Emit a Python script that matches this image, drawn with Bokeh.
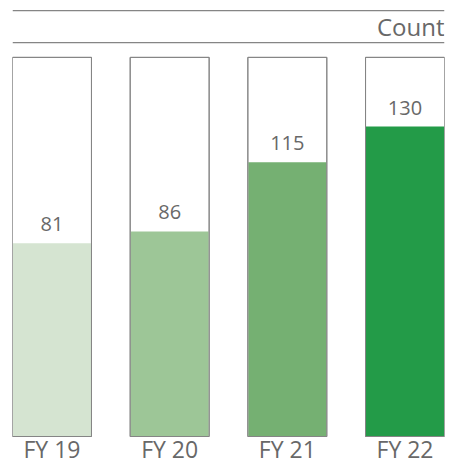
from bokeh.plotting import figure
from bokeh.models import ColumnDataSource, Range1d, Span
from bokeh.embed import file_html
from bokeh.resources import INLINE
from bokeh.core.properties import value

# ---- data ----
categories = ["FY 19", "FY 20", "FY 21", "FY 22"]
counts = [81, 86, 115, 130]
colors = ["#d5e4d1", "#9dc697", "#75b072", "#239b48"]
header_label = "Count"

# ---- layout constants (style) ----
BOX_TOP = 159
Y_START = -11.74
Y_END = 179.5
TOP_LINE = 178.6
HEADER_LINE = 165.2
HEADER_TEXT_Y = 168.0
X_START, X_END = -0.3355, 3.3355
BAR_WIDTH = 0.671
FONT = "Open Sans"
TEXT_COLOR = "#686868"
LINE_COLOR = "#858585"

xs = list(range(len(categories)))
src = ColumnDataSource(dict(
    x=xs,
    count=counts,
    color=colors,
    label=[str(c) for c in counts],
    cat=categories,
    zero=[0] * len(xs),
    box_top=[BOX_TOP] * len(xs),
))

p = figure(
    width=447, height=464,
    x_range=Range1d(X_START, X_END),
    y_range=Range1d(Y_START, Y_END),
    output_backend="svg", toolbar_location=None,
    min_border_left=12, min_border_right=3, min_border_top=8, min_border_bottom=0,
)
p.outline_line_color = None
p.grid.visible = False
p.axis.visible = False
p.background_fill_color = "white"
p.border_fill_color = "white"

# full-height outline boxes
p.vbar(x="x", top="box_top", bottom=0, width=BAR_WIDTH, source=src,
       fill_color="white", line_color=LINE_COLOR, line_width=1)
# value bars
p.vbar(x="x", top="count", bottom=0, width=BAR_WIDTH - 0.008, source=src,
       fill_color="color", line_color=None)
# outline on top so edges stay grey
p.vbar(x="x", top="box_top", bottom=0, width=BAR_WIDTH, source=src,
       fill_color=None, line_color=LINE_COLOR, line_width=1)

# value labels
p.text(x="x", y="count", text="label", source=src,
       text_font=value(FONT), text_font_size="20px", text_color=TEXT_COLOR,
       text_align="center", text_baseline="bottom", y_offset=-12)

# category labels
p.text(x="x", y="zero", text="cat", source=src,
       text_font=value(FONT), text_font_size="23px", text_color=TEXT_COLOR,
       text_align="center", text_baseline="bottom", y_offset=28)

# header lines and label
p.add_layout(Span(location=TOP_LINE, dimension="width", line_color=LINE_COLOR, line_width=1.2))
p.add_layout(Span(location=HEADER_LINE, dimension="width", line_color=LINE_COLOR, line_width=1.2))
p.text(x=[X_END], y=[HEADER_TEXT_Y], text=[header_label],
       text_font=value(FONT), text_font_size="24px", text_color=TEXT_COLOR,
       text_align="right", text_baseline="bottom", y_offset=7)

open("out.html", "w").write(file_html(p, INLINE))
